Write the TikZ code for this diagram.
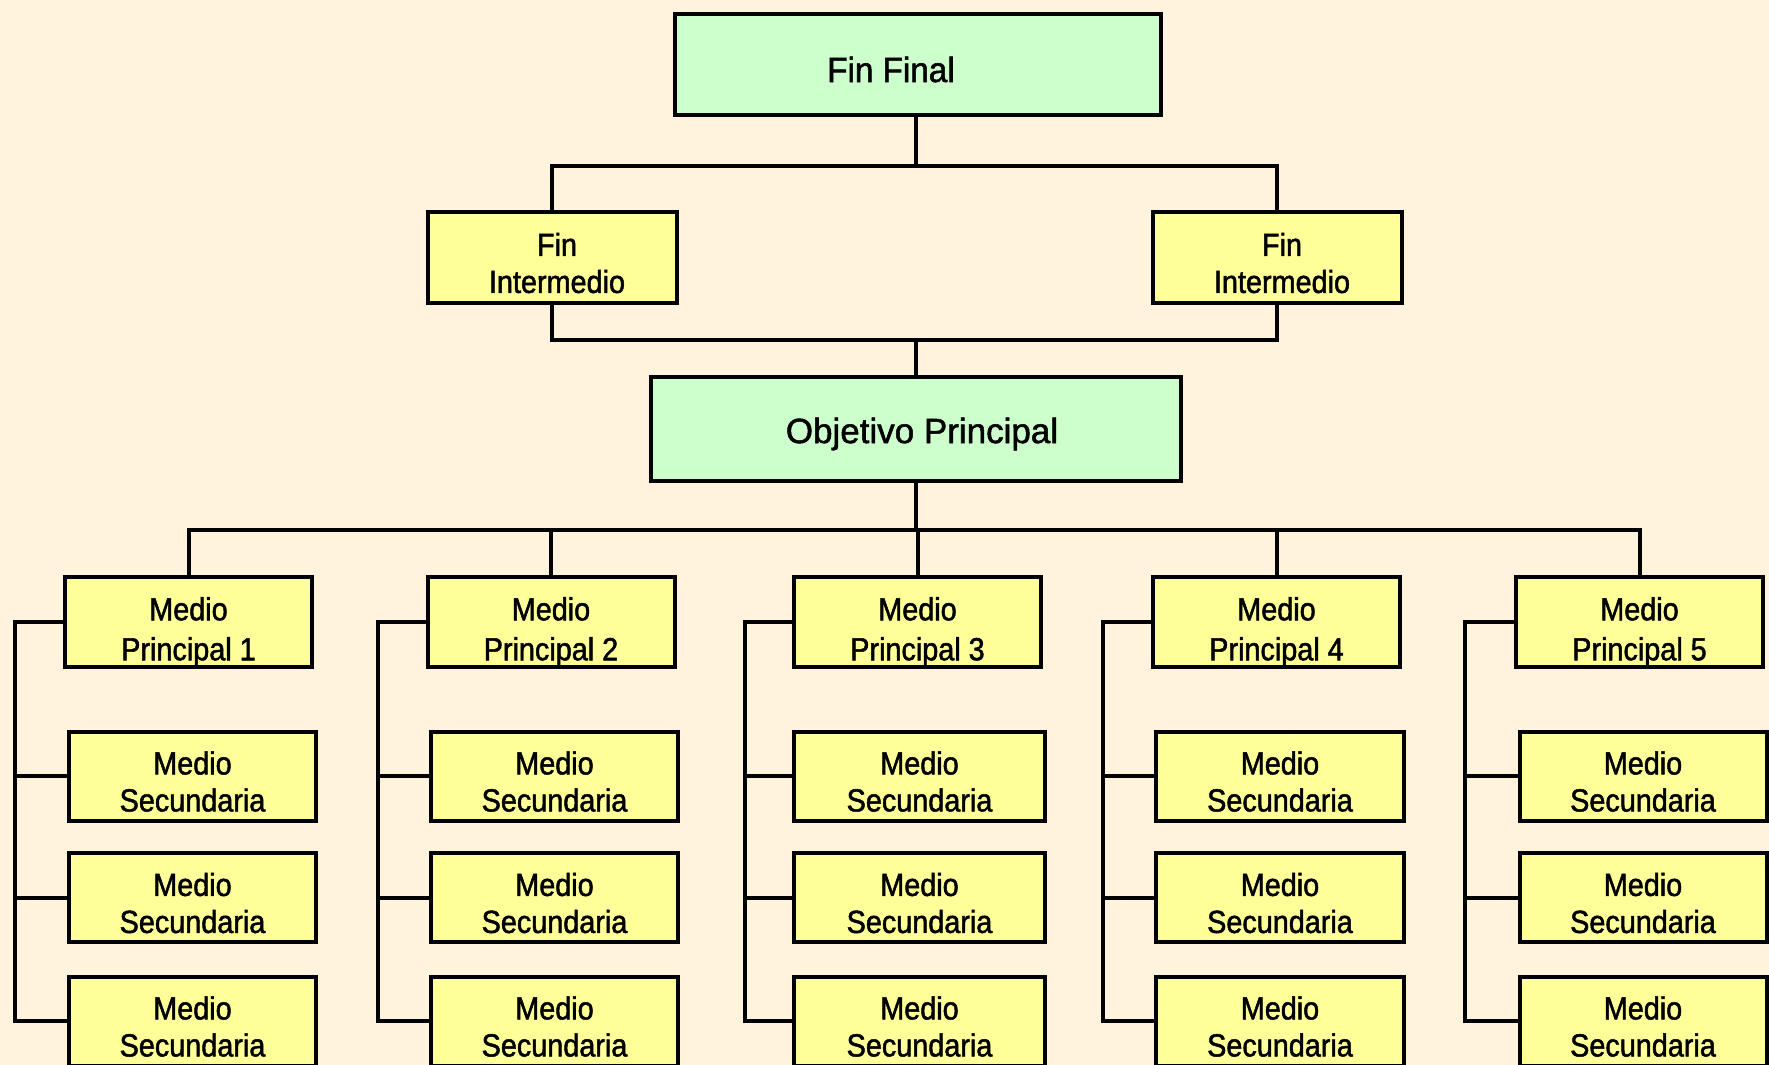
\documentclass[tikz,border=0pt]{standalone}
\usepackage{fontspec}
\setmainfont{Liberation Sans}
\newfontfamily\boxfont{Liberation Sans}[FakeStretch=0.9, FakeBold=1.5]
\newfontfamily\titlefont{Liberation Sans}[FakeStretch=0.95, FakeBold=1.5]
\newfontfamily\widefont{Liberation Sans}[FakeBold=1.5]
\definecolor{paper}{RGB}{255,243,222}
\definecolor{boxgreen}{RGB}{204,255,204}
\definecolor{boxyellow}{RGB}{255,255,153}
\tikzset{
  box/.style={draw=black, line width=4pt, inner sep=0pt,
    minimum width=247pt, minimum height=89pt},
  greenbox/.style={box, fill=boxgreen},
  yellowbox/.style={box, fill=boxyellow},
  wire/.style={draw=black, line width=4pt},
  toptext/.style={font=\titlefont\fontsize{35}{40}\selectfont, align=center},
  bigtext/.style={font=\widefont\fontsize{35}{40}\selectfont, align=center},
  midtext/.style={font=\boxfont\fontsize{32}{37}\selectfont, align=center},
  prtext/.style={font=\boxfont\fontsize{32}{40}\selectfont, align=center},
}
\begin{document}
\begin{tikzpicture}[x=1pt, y=-1pt]
  % canvas
  \fill[paper] (0,0) rectangle (1769,1065);
  \useasboundingbox (0,0) rectangle (1769,1065);

  % top levels
  \node[greenbox, minimum width=486pt, minimum height=101pt,
        label={[name=ffT, toptext, xshift=-27pt, yshift=-5pt]center:Fin Final}]
        (ff) at (918,64.5) {};
  \node[yellowbox, minimum width=249pt, minimum height=91pt,
        label={[name=fi1T, midtext, xshift=5pt, yshift=-5.5pt]center:{Fin\\Intermedio}}]
        (fi1) at (552,257.5) {};
  \node[yellowbox, minimum width=249pt, minimum height=91pt,
        label={[name=fi2T, midtext, xshift=5pt, yshift=-5.5pt]center:{Fin\\Intermedio}}]
        (fi2) at (1277,257.5) {};
  \node[greenbox, minimum width=530pt, minimum height=104pt,
        label={[name=opT, bigtext, xshift=6pt, yshift=-5pt]center:Objetivo Principal}]
        (op) at (916,429) {};

  % junction points of the tree
  \coordinate (j1) at (916,166);
  \coordinate (j2) at (916,340);
  \coordinate (j3) at (916,530);

  \draw[wire] (j1 |- ff.south) -- (j1);
  \draw[wire] (fi1.north) |- (j1) -| (fi2.north);
  \draw[wire] (fi1.south) |- (j2) -| (fi2.south);
  \draw[wire] (j2) -- (j2 |- op.north);
  \draw[wire] (j3 |- op.south) -- (j3);

  % five columns of means
  \foreach \k/\cx/\sx/\sw/\tx in {1/188.5/192.5/247/15,
                                  2/551/554.5/247/378,
                                  3/917.5/919.5/251/745,
                                  4/1276.5/1280/248/1103,
                                  5/1639.5/1643/247/1465}{
    \node[yellowbox, minimum height=90pt,
          label={[name=mp\k T, prtext, yshift=-10pt]center:{Medio\\Principal \k}}]
          (mp\k) at (\cx,622) {};
    \node[yellowbox, minimum width=\sw pt, minimum height=89pt,
          label={[name=ms\k aT, midtext, yshift=-5.5pt]center:{Medio\\Secundaria}}]
          (ms\k a) at (\sx,776) {};
    \node[yellowbox, minimum width=\sw pt, minimum height=89pt,
          label={[name=ms\k bT, midtext, yshift=-5.5pt]center:{Medio\\Secundaria}}]
          (ms\k b) at (\sx,897.5) {};
    \node[yellowbox, minimum width=\sw pt, minimum height=89pt,
          label={[name=ms\k cT, midtext, yshift=-5.5pt]center:{Medio\\Secundaria}}]
          (ms\k c) at (\sx,1021) {};
    \coordinate (t\k) at (\tx,0);
    \draw[wire] (mp\k.north) |- (j3);
    \draw[wire] (mp\k.west) -| (t\k |- ms\k c.west) -- (ms\k c.west);
    \draw[wire] (t\k |- ms\k a.west) -- (ms\k a.west);
    \draw[wire] (t\k |- ms\k b.west) -- (ms\k b.west);
  }
\end{tikzpicture}
\end{document}
